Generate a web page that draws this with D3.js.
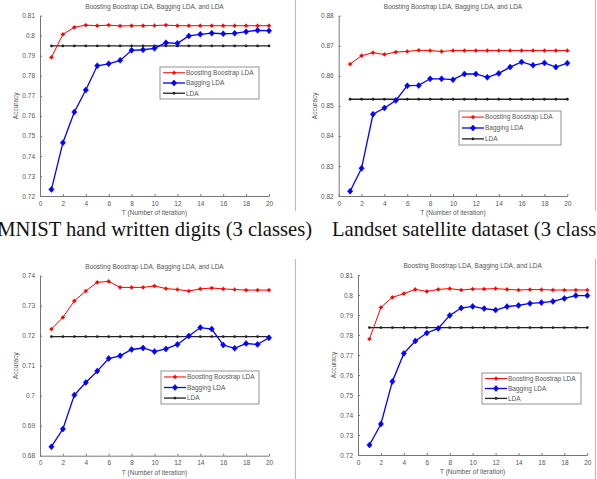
<!DOCTYPE html>
<html lang="en">
<head>
  <meta charset="UTF-8">
  <title>Boosting Boostrap LDA, Bagging LDA, and LDA</title>
  <style>
    body { margin: 0; background: #fff; }
    svg { display: block; }
    .tick text { font-family: 'Liberation Sans', Arial, sans-serif; font-size: 6.5px; fill: #555; }
    .small { font-family: 'Liberation Sans', Arial, sans-serif; font-size: 6.5px; fill: #555; }
    .caption { font-family: 'Liberation Serif', 'Times New Roman', serif; font-size: 20.6px; fill: #111; }
  </style>
  <script src="https://d3js.org/d3.v7.min.js"></script>
</head>
<body>
  <svg id="fig" width="597" height="479"></svg>
  <script>
    // x categories (number of iterations T)
    const iterations = [1, 2, 3, 4, 5, 6, 7, 8, 9, 10, 11, 12, 13, 14, 15, 16, 17, 18, 19, 20];
    const xTicks = [0, 2, 4, 6, 8, 10, 12, 14, 16, 18, 20];
    const seriesNames = ["Boosting Boostrap LDA", "Bagging LDA", "LDA"];

    // MNIST hand written digits (3 classes)
    const mnistBoost = [0.7892, 0.8007, 0.8042, 0.8053, 0.8050, 0.8053, 0.8049, 0.8050, 0.8050, 0.8051,
                        0.8053, 0.8050, 0.8050, 0.8050, 0.8050, 0.8050, 0.8050, 0.8050, 0.8050, 0.8050];
    const mnistBag = [0.7233, 0.7466, 0.7619, 0.7729, 0.7850, 0.7860, 0.7877, 0.7927, 0.7930, 0.7937,
                      0.7965, 0.7962, 0.7999, 0.8007, 0.8013, 0.8010, 0.8012, 0.8020, 0.8027, 0.8025];
    const mnistLda = [0.7949, 0.7949, 0.7949, 0.7949, 0.7949, 0.7949, 0.7949, 0.7949, 0.7949, 0.7949,
                      0.7949, 0.7949, 0.7949, 0.7949, 0.7949, 0.7949, 0.7949, 0.7949, 0.7949, 0.7949];
    const mnistYTicks = [0.72, 0.73, 0.74, 0.75, 0.76, 0.77, 0.78, 0.79, 0.80, 0.81];

    // Landset satellite dataset (3 classes)
    const landBoost = [0.8639, 0.8667, 0.8677, 0.8671, 0.8679, 0.8681, 0.8685, 0.8684, 0.8681, 0.8684,
                       0.8684, 0.8684, 0.8684, 0.8684, 0.8684, 0.8684, 0.8684, 0.8684, 0.8684, 0.8684];
    const landBag = [0.8216, 0.8292, 0.8472, 0.8493, 0.8518, 0.8567, 0.8568, 0.8590, 0.8590, 0.8587,
                     0.8606, 0.8606, 0.8595, 0.8608, 0.8629, 0.8646, 0.8635, 0.8643, 0.8629, 0.8642];
    const landLda = [0.8522, 0.8522, 0.8522, 0.8522, 0.8522, 0.8522, 0.8522, 0.8522, 0.8522, 0.8522,
                     0.8522, 0.8522, 0.8522, 0.8522, 0.8522, 0.8522, 0.8522, 0.8522, 0.8522, 0.8522];
    const landYTicks = [0.82, 0.83, 0.84, 0.85, 0.86, 0.87, 0.88];

    // bottom-left panel
    const thirdBoost = [0.7222, 0.7261, 0.7316, 0.7349, 0.7378, 0.7381, 0.7361, 0.7361, 0.7361, 0.7366,
                        0.7357, 0.7354, 0.7349, 0.7356, 0.7359, 0.7356, 0.7354, 0.7352, 0.7352, 0.7352];
    const thirdBag = [0.6830, 0.6889, 0.7002, 0.7044, 0.7082, 0.7124, 0.7133, 0.7154, 0.7159, 0.7147,
                      0.7156, 0.7171, 0.7199, 0.7227, 0.7222, 0.7169, 0.7158, 0.7174, 0.7171, 0.7193];
    const thirdLda = [0.7197, 0.7197, 0.7197, 0.7197, 0.7197, 0.7197, 0.7197, 0.7197, 0.7197, 0.7197,
                      0.7197, 0.7197, 0.7197, 0.7197, 0.7197, 0.7197, 0.7197, 0.7197, 0.7197, 0.7197];
    const thirdYTicks = [0.68, 0.69, 0.70, 0.71, 0.72, 0.73, 0.74];

    // bottom-right panel
    const fourthBoost = [0.7780, 0.7938, 0.7988, 0.8007, 0.8028, 0.8018, 0.8028, 0.8032, 0.8025, 0.8030,
                         0.8030, 0.8032, 0.8028, 0.8025, 0.8027, 0.8027, 0.8025, 0.8025, 0.8025, 0.8025];
    const fourthBag = [0.7250, 0.7355, 0.7568, 0.7708, 0.7770, 0.7810, 0.7833, 0.7898, 0.7935, 0.7943,
                       0.7932, 0.7925, 0.7942, 0.7948, 0.7958, 0.7962, 0.7968, 0.7983, 0.7997, 0.7997];
    const fourthLda = [0.7837, 0.7837, 0.7837, 0.7837, 0.7837, 0.7837, 0.7837, 0.7837, 0.7837, 0.7837,
                       0.7837, 0.7837, 0.7837, 0.7837, 0.7837, 0.7837, 0.7837, 0.7837, 0.7837, 0.7837];
    const fourthYTicks = [0.72, 0.73, 0.74, 0.75, 0.76, 0.77, 0.78, 0.79, 0.80, 0.81];

    const colors = ["#ff0000", "#0000ff", "#000000"];

    const panels = [
      { left: 40, right: 269, top: 15.7, bottom: 196, yTicks: mnistYTicks,
        series: [mnistBoost, mnistBag, mnistLda], legend: { x: 160, y: 67, w: 99, h: 32 } },
      { left: 338.7, right: 567.3, top: 15.7, bottom: 196, yTicks: landYTicks,
        series: [landBoost, landBag, landLda], legend: { x: 459, y: 111, w: 102, h: 34 } },
      { left: 40, right: 269, top: 275.7, bottom: 455.7, yTicks: thirdYTicks,
        series: [thirdBoost, thirdBag, thirdLda], legend: { x: 161, y: 371, w: 98, h: 33 } },
      { left: 358, right: 587.3, top: 275, bottom: 455, yTicks: fourthYTicks,
        series: [fourthBoost, fourthBag, fourthLda], legend: { x: 482, y: 373, w: 99, h: 31 } }
    ];

    const svg = d3.select("#fig");
    const tickFmt = d => String(+d.toFixed(2));

    function marker(g, k, cx, cy) {
      if (k === 0) {
        // red star-ish point
        g.append("circle").attr("cx", cx).attr("cy", cy).attr("r", 1.6).attr("fill", colors[0]);
        g.append("path").attr("d", `M${cx - 2.2},${cy}H${cx + 2.2}M${cx},${cy - 2.2}V${cy + 2.2}`)
          .attr("stroke", colors[0]).attr("stroke-width", 0.8);
      } else if (k === 1) {
        g.append("path").attr("d", `M${cx},${cy - 3}L${cx + 2.6},${cy}L${cx},${cy + 3}L${cx - 2.6},${cy}Z`)
          .attr("fill", colors[1]).attr("stroke", colors[1]).attr("stroke-width", 0.6);
      } else {
        g.append("circle").attr("cx", cx).attr("cy", cy).attr("r", 1.4).attr("fill", "#222");
      }
    }

    panels.forEach(p => {
      const x = d3.scaleLinear().domain([0, 20]).range([p.left, p.right]);
      const yMin = p.yTicks[0], yMax = p.yTicks[p.yTicks.length - 1];
      const y = d3.scaleLinear().domain([yMin, yMax]).range([p.bottom, p.top]);
      const g = svg.append("g");

      g.append("g").attr("transform", `translate(0,${p.bottom})`)
        .call(d3.axisBottom(x).tickValues(xTicks).tickSizeInner(-2).tickSizeOuter(0).tickPadding(5))
        .call(a => a.selectAll("line, path").attr("stroke", "#777"));
      g.append("g").attr("transform", `translate(${p.left},0)`)
        .call(d3.axisLeft(y).tickValues(p.yTicks).tickFormat(tickFmt).tickSizeInner(-2).tickSizeOuter(0).tickPadding(5))
        .call(a => a.selectAll("line, path").attr("stroke", "#777"));

      const cx = (p.left + p.right) / 2;
      g.append("text").attr("class", "small").attr("x", cx).attr("y", p.top - 7)
        .attr("text-anchor", "middle").text("Boosting Boostrap LDA, Bagging LDA, and LDA");
      g.append("text").attr("class", "small").attr("x", cx).attr("y", p.bottom + 19)
        .attr("text-anchor", "middle").text("T (Number of iteration)");
      g.append("text").attr("class", "small")
        .attr("transform", `translate(${p.left - 22},${(p.top + p.bottom) / 2}) rotate(-90)`)
        .attr("text-anchor", "middle").text("Accuracy");

      const line = d3.line().x((d, i) => x(iterations[i])).y(d => y(d));
      // draw LDA, then bagging, then boosting on top
      [2, 1, 0].forEach(k => {
        const vals = p.series[k];
        g.append("path").datum(vals).attr("d", line).attr("fill", "none")
          .attr("stroke", k === 2 ? "#222" : colors[k]).attr("stroke-width", k === 0 ? 1 : 1.3);
        vals.forEach((v, i) => marker(g, k, x(iterations[i]), y(v)));
      });

      // legend
      const L = p.legend;
      const lg = g.append("g");
      lg.append("rect").attr("x", L.x).attr("y", L.y).attr("width", L.w).attr("height", L.h)
        .attr("fill", "#fff").attr("stroke", "#777").attr("stroke-width", 0.8);
      seriesNames.forEach((name, k) => {
        const ly = L.y + L.h * (0.18 + 0.32 * k);
        lg.append("line").attr("x1", L.x + 3).attr("x2", L.x + 25).attr("y1", ly).attr("y2", ly)
          .attr("stroke", k === 2 ? "#222" : colors[k]).attr("stroke-width", k === 0 ? 1 : 1.3);
        marker(lg, k, L.x + 14, ly);
        lg.append("text").attr("class", "small").attr("x", L.x + 26).attr("y", ly + 2.3).text(name);
      });
    });

    // separators between columns
    svg.append("line").attr("x1", 295.5).attr("x2", 295.5).attr("y1", 0).attr("y2", 211)
      .attr("stroke", "#f3a3a3").attr("stroke-width", 1);
    svg.append("line").attr("x1", 295.5).attr("x2", 295.5).attr("y1", 259).attr("y2", 479)
      .attr("stroke", "#f3a3a3").attr("stroke-width", 1);
    svg.append("line").attr("x1", 595.5).attr("x2", 595.5).attr("y1", 0).attr("y2", 211)
      .attr("stroke", "#f3a3a3").attr("stroke-width", 1);
    svg.append("line").attr("x1", 595.5).attr("x2", 595.5).attr("y1", 259).attr("y2", 479)
      .attr("stroke", "#f3a3a3").attr("stroke-width", 1);

    // captions
    svg.append("text").attr("class", "caption").attr("x", 312).attr("y", 236)
      .attr("text-anchor", "end").text("MNIST hand written digits (3 classes)");
    svg.append("text").attr("class", "caption").attr("x", 332).attr("y", 236)
      .text("Landset satellite dataset (3 classes)");
  </script>
</body>
</html>
